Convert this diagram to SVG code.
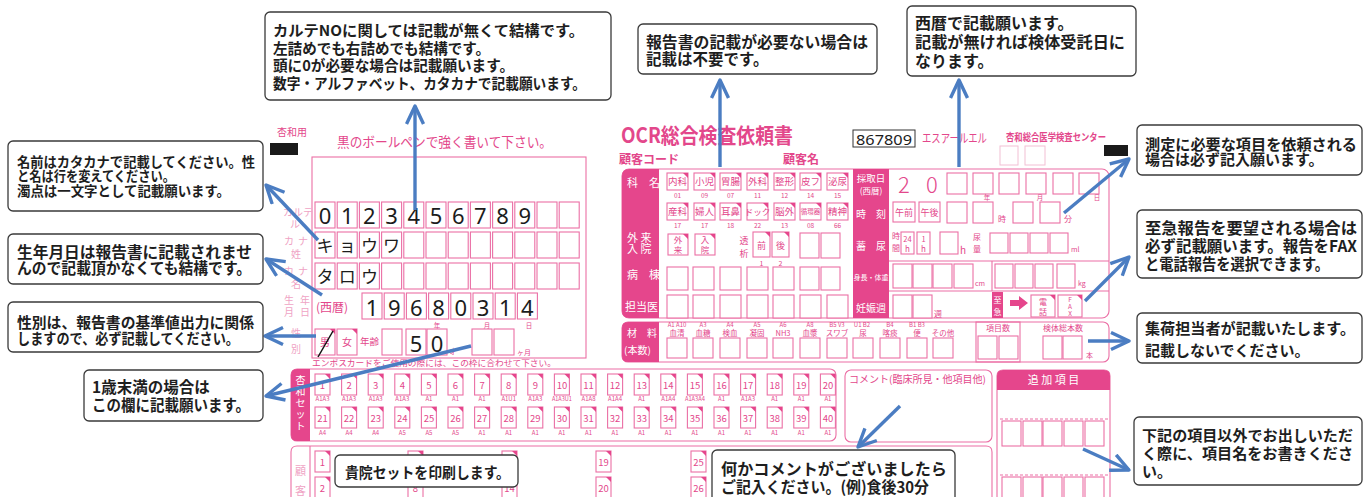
<svg xmlns="http://www.w3.org/2000/svg" width="1363" height="497" viewBox="0 0 1363 497">
<defs>
<style>
.cb{fill:#fff;stroke:#3a3a3a;stroke-width:1.3}
.ct{font-family:"Noto Sans CJK JP",sans-serif;font-weight:700;fill:#1e1e1e}
.pl{fill:none;stroke:#eb6fa5;stroke-width:1.1}
.pb{fill:#fff;stroke:#eb6fa5;stroke-width:1.1}
.pf{fill:#e5468c}
.pt{font-family:"Noto Sans CJK JP",sans-serif;fill:#e3478b}
.fd{font-family:"Noto Sans CJK JP",sans-serif;fill:#efa3c4}
.wt{font-family:"Noto Sans CJK JP",sans-serif;fill:#fff}
.dg{font-family:"Noto Sans","DejaVu Sans",sans-serif;fill:#1c1c1c;text-anchor:middle}
.kt{font-family:"Noto Sans CJK JP",sans-serif;fill:#1c1c1c;text-anchor:middle}
.ar{fill:none;stroke:#4b7dc2;stroke-width:3.4;marker-end:url(#ah)}
.c{text-anchor:middle}
</style>
<marker id="ah" markerUnits="userSpaceOnUse" markerWidth="26" markerHeight="26" refX="19" refY="10" orient="auto"><path d="M1,1.5 L19,10 L1,18.5" fill="none" stroke="#4b7dc2" stroke-width="3.4" stroke-linejoin="round"/></marker>
<g id="kb"><rect width="15" height="21" class="pb"/><path d="M10,0h5v5z" class="pf"/></g>
<g id="db"><rect width="21" height="17" class="pb"/><path d="M16,0h5v5z" class="pf"/></g>
<rect id="nb" width="20" height="26" class="pb"/>
<rect id="sb" width="20" height="21" class="pb"/>
</defs>

<g id="patient-panel">
<text class="pt" x="277" y="136" font-size="10">杏和用</text>
<rect x="270" y="143" width="28" height="12" fill="#1a1a1a"/>
<text class="pt" x="337" y="147" font-size="13.5" textLength="215" lengthAdjust="spacingAndGlyphs">黒のボールペンで強く書いて下さい。</text>
<rect class="pl" x="312" y="157" width="274" height="201"/>
<g class="fd" font-size="10">
<text x="283" y="216">カルテ</text><text x="290" y="228">ル</text>
<text x="284" y="245">カ</text><text x="298" y="245">ナ</text><text x="291" y="258">姓</text>
<text x="284" y="275">カ</text><text x="298" y="275">ナ</text><text x="291" y="288">名</text>
<text x="284" y="304">生</text><text x="300" y="304">年</text><text x="284" y="316">月</text><text x="300" y="316">日</text>
<text x="291" y="337">性</text><text x="291" y="353">別</text>
</g>
<use href="#nb" x="315" y="202"/><use href="#nb" x="337.2" y="202"/><use href="#nb" x="359.4" y="202"/><use href="#nb" x="381.6" y="202"/><use href="#nb" x="403.8" y="202"/><use href="#nb" x="426" y="202"/><use href="#nb" x="448.2" y="202"/><use href="#nb" x="470.4" y="202"/><use href="#nb" x="492.6" y="202"/><use href="#nb" x="514.8" y="202"/><use href="#nb" x="537" y="202"/><use href="#nb" x="559.2" y="202"/>
<use href="#nb" x="315" y="232"/><use href="#nb" x="337.2" y="232"/><use href="#nb" x="359.4" y="232"/><use href="#nb" x="381.6" y="232"/><use href="#nb" x="403.8" y="232"/><use href="#nb" x="426" y="232"/><use href="#nb" x="448.2" y="232"/><use href="#nb" x="470.4" y="232"/><use href="#nb" x="492.6" y="232"/><use href="#nb" x="514.8" y="232"/><use href="#nb" x="537" y="232"/><use href="#nb" x="559.2" y="232"/>
<use href="#nb" x="315" y="263"/><use href="#nb" x="337.2" y="263"/><use href="#nb" x="359.4" y="263"/><use href="#nb" x="381.6" y="263"/><use href="#nb" x="403.8" y="263"/><use href="#nb" x="426" y="263"/><use href="#nb" x="448.2" y="263"/><use href="#nb" x="470.4" y="263"/><use href="#nb" x="492.6" y="263"/><use href="#nb" x="514.8" y="263"/><use href="#nb" x="537" y="263"/><use href="#nb" x="559.2" y="263"/>
<g font-size="22">
<text class="dg" x="325" y="224">0</text><text class="dg" x="347.2" y="224">1</text><text class="dg" x="369.4" y="224">2</text><text class="dg" x="391.6" y="224">3</text><text class="dg" x="413.8" y="224">4</text><text class="dg" x="436" y="224">5</text><text class="dg" x="458.2" y="224">6</text><text class="dg" x="480.4" y="224">7</text><text class="dg" x="502.6" y="224">8</text><text class="dg" x="524.8" y="224">9</text>
</g>
<g font-size="17">
<text class="kt" x="325" y="252">キ</text><text class="kt" x="347.2" y="252">ョ</text><text class="kt" x="369.4" y="252">ウ</text><text class="kt" x="391.6" y="252">ワ</text>
<text class="kt" x="325" y="283">タ</text><text class="kt" x="347.2" y="283">ロ</text><text class="kt" x="369.4" y="283">ウ</text>
</g>
<text class="pt" x="316" y="312" font-size="12">(西暦)</text>
<use href="#nb" x="362" y="293"/><use href="#nb" x="384.2" y="293"/><use href="#nb" x="406.4" y="293"/><use href="#nb" x="428.6" y="293"/><use href="#nb" x="450.8" y="293"/><use href="#nb" x="473" y="293"/><use href="#nb" x="495.2" y="293"/><use href="#nb" x="517.4" y="293"/>
<g font-size="22">
<text class="dg" x="372" y="316">1</text><text class="dg" x="394.2" y="316">9</text><text class="dg" x="416.4" y="316">6</text><text class="dg" x="438.6" y="316">8</text><text class="dg" x="460.8" y="316">0</text><text class="dg" x="483" y="316">3</text><text class="dg" x="505.2" y="316">1</text><text class="dg" x="527.4" y="316">4</text>
</g>
<g class="pt c" font-size="6.5"><text x="437" y="327.5">年</text><text x="487" y="327.5">月</text><text x="529" y="327.5">日</text></g>
<use href="#nb" x="315" y="329"/><use href="#nb" x="337" y="329"/>
<path d="M330,329h5v5z M352,329h5v5z" class="pf"/>
<text class="pt c" x="325" y="346" font-size="10">男</text>
<text class="pt c" x="347" y="346" font-size="10">女</text>
<line x1="318" y1="357" x2="333" y2="331" stroke="#111" stroke-width="1.5"/>
<text class="pt" x="360" y="345" font-size="9.5">年齢</text>
<use href="#nb" x="382" y="329"/><use href="#nb" x="406" y="329"/><use href="#nb" x="427" y="329"/>
<text class="dg" x="416" y="352" font-size="22">5</text><text class="dg" x="437" y="352" font-size="22">0</text>
<text class="pt" x="450" y="354" font-size="6.5">才</text>
<use href="#nb" x="472" y="329"/><use href="#nb" x="494" y="329"/>
<text class="pt" x="517" y="355" font-size="7">ヶ月</text>
<text class="pt" x="312" y="366" font-size="8.5" textLength="244" lengthAdjust="spacingAndGlyphs">エンボスカードをご使用の際には、この枠に合わせて下さい。</text>
</g>

<g id="kyowa-set">
<rect class="pl" x="291" y="369" width="545" height="72" rx="6"/>
<path class="pf" d="M310,369 H297 Q291,369 291,375 V435 Q291,441 297,441 H310 Z"/>
<g class="wt c" font-size="10"><text x="300.5" y="384">杏</text><text x="300.5" y="395">和</text><text x="300.5" y="407">セ</text><text x="300.5" y="418">ッ</text><text x="300.5" y="430">ト</text></g>
<use href="#kb" x="315" y="374"/><use href="#kb" x="341.6" y="374"/><use href="#kb" x="368.2" y="374"/><use href="#kb" x="394.8" y="374"/><use href="#kb" x="421.4" y="374"/><use href="#kb" x="448" y="374"/><use href="#kb" x="474.6" y="374"/><use href="#kb" x="501.2" y="374"/><use href="#kb" x="527.8" y="374"/><use href="#kb" x="554.4" y="374"/><use href="#kb" x="581" y="374"/><use href="#kb" x="607.6" y="374"/><use href="#kb" x="634.2" y="374"/><use href="#kb" x="660.8" y="374"/><use href="#kb" x="687.4" y="374"/><use href="#kb" x="714" y="374"/><use href="#kb" x="740.6" y="374"/><use href="#kb" x="767.2" y="374"/><use href="#kb" x="793.8" y="374"/><use href="#kb" x="820.4" y="374"/>
<use href="#kb" x="315" y="407"/><use href="#kb" x="341.6" y="407"/><use href="#kb" x="368.2" y="407"/><use href="#kb" x="394.8" y="407"/><use href="#kb" x="421.4" y="407"/><use href="#kb" x="448" y="407"/><use href="#kb" x="474.6" y="407"/><use href="#kb" x="501.2" y="407"/><use href="#kb" x="527.8" y="407"/><use href="#kb" x="554.4" y="407"/><use href="#kb" x="581" y="407"/><use href="#kb" x="607.6" y="407"/><use href="#kb" x="634.2" y="407"/><use href="#kb" x="660.8" y="407"/><use href="#kb" x="687.4" y="407"/><use href="#kb" x="714" y="407"/><use href="#kb" x="740.6" y="407"/><use href="#kb" x="767.2" y="407"/><use href="#kb" x="793.8" y="407"/><use href="#kb" x="820.4" y="407"/>
<g class="pt c" font-size="9.5">
<text x="322.5" y="389">1</text><text x="349.1" y="389">2</text><text x="375.7" y="389">3</text><text x="402.3" y="389">4</text><text x="428.9" y="389">5</text><text x="455.5" y="389">6</text><text x="482.1" y="389">7</text><text x="508.7" y="389">8</text><text x="535.3" y="389">9</text><text x="561.9" y="389">10</text><text x="588.5" y="389">11</text><text x="615.1" y="389">12</text><text x="641.7" y="389">13</text><text x="668.3" y="389">14</text><text x="694.9" y="389">15</text><text x="721.5" y="389">16</text><text x="748.1" y="389">17</text><text x="774.7" y="389">18</text><text x="801.3" y="389">19</text><text x="827.9" y="389">20</text>
<text x="322.5" y="422">21</text><text x="349.1" y="422">22</text><text x="375.7" y="422">23</text><text x="402.3" y="422">24</text><text x="428.9" y="422">25</text><text x="455.5" y="422">26</text><text x="482.1" y="422">27</text><text x="508.7" y="422">28</text><text x="535.3" y="422">29</text><text x="561.9" y="422">30</text><text x="588.5" y="422">31</text><text x="615.1" y="422">32</text><text x="641.7" y="422">33</text><text x="668.3" y="422">34</text><text x="694.9" y="422">35</text><text x="721.5" y="422">36</text><text x="748.1" y="422">37</text><text x="774.7" y="422">38</text><text x="801.3" y="422">39</text><text x="827.9" y="422">40</text>
</g>
<g class="pt c" font-size="6">
<text x="322.5" y="401">A1A3</text><text x="349.1" y="401">A1A3</text><text x="375.7" y="401">A1A3</text><text x="402.3" y="401">A1A3</text><text x="428.9" y="401">A1</text><text x="455.5" y="401">A1</text><text x="482.1" y="401">A1</text><text x="508.7" y="401">A1U1</text><text x="535.3" y="401">A1A3</text><text x="561.9" y="401" textLength="20" lengthAdjust="spacingAndGlyphs">A1A3U1</text><text x="588.5" y="401">A1A8</text><text x="615.1" y="401">A1A4</text><text x="641.7" y="401">A1</text><text x="668.3" y="401">A1A4</text><text x="694.9" y="401" textLength="20" lengthAdjust="spacingAndGlyphs">A1A3A4</text><text x="721.5" y="401">A1</text><text x="748.1" y="401">A1A3</text><text x="774.7" y="401">A1</text><text x="801.3" y="401">A1</text><text x="827.9" y="401">A1</text>
<text x="322.5" y="435">A4</text><text x="349.1" y="435">A4</text><text x="375.7" y="435">A4</text><text x="402.3" y="435">A5</text><text x="428.9" y="435">A5</text><text x="455.5" y="435">A5</text><text x="482.1" y="435">A1</text><text x="508.7" y="435">A1</text><text x="535.3" y="435">A1</text><text x="561.9" y="435">A1</text><text x="588.5" y="435">A1</text><text x="615.1" y="435">A1</text><text x="641.7" y="435">A1</text><text x="668.3" y="435">A1</text><text x="694.9" y="435">A1</text><text x="721.5" y="435">A1</text><text x="748.1" y="435">A1</text><text x="774.7" y="435">A1</text><text x="801.3" y="435">A1</text><text x="827.9" y="435">A1</text>
</g>
</g>

<g id="customer-set">
<path class="pl" d="M291,497 V452 Q291,446 297,446 H986 Q992,446 992,452 V497"/>
<line class="pl" x1="310" y1="446" x2="310" y2="497"/>
<text class="fd c" x="300.5" y="475" font-size="11">顧</text><text class="fd c" x="300.5" y="495" font-size="11">客</text>
<use href="#kb" x="315" y="451"/><use href="#kb" x="315" y="477"/>
<use href="#kb" x="408" y="451"/><use href="#kb" x="408" y="477"/>
<use href="#kb" x="502" y="451"/><use href="#kb" x="502" y="477"/>
<use href="#kb" x="596" y="451"/><use href="#kb" x="596" y="477"/>
<use href="#kb" x="691" y="451"/><use href="#kb" x="691" y="477"/>
<g class="pt c" font-size="9.5">
<text x="322.5" y="466">1</text><text x="322.5" y="492">2</text>
<text x="415.5" y="492">8</text>
<text x="509.5" y="492">14</text>
<text x="603.5" y="466">19</text><text x="603.5" y="492">20</text>
<text x="698.5" y="466">25</text><text x="698.5" y="492">26</text>
</g>
</g>

<g id="comment-area">
<rect class="pl" x="845" y="370" width="147" height="72" rx="6"/>
<text class="pt" x="849" y="383" font-size="10" textLength="137" lengthAdjust="spacingAndGlyphs">コメント(臨床所見・他項目他)</text>
</g>

<g id="extra-items">
<path class="pl" d="M997,497 V376 Q997,370 1003,370 H1104 Q1110,370 1110,376 V497"/>
<path class="pf" d="M997,390 V376 Q997,370 1003,370 H1104 Q1110,370 1110,376 V390 Z"/>
<text class="wt c" x="1053.5" y="384" font-size="11">追 加 項 目</text>
<line x1="1000" y1="419" x2="1108" y2="419" stroke="#eb6fa5" stroke-width="1" stroke-dasharray="3 2"/>
<line x1="1000" y1="475" x2="1108" y2="475" stroke="#eb6fa5" stroke-width="1" stroke-dasharray="3 2"/>
<rect class="pb" x="1002" y="421" width="19" height="25"/><rect class="pb" x="1023" y="421" width="19" height="25"/><rect class="pb" x="1043" y="421" width="19" height="25"/><rect class="pb" x="1064" y="421" width="19" height="25"/><rect class="pb" x="1085" y="421" width="19" height="25"/>
<rect class="pb" x="1002" y="477" width="19" height="25"/><rect class="pb" x="1023" y="477" width="19" height="25"/><rect class="pb" x="1043" y="477" width="19" height="25"/><rect class="pb" x="1064" y="477" width="19" height="25"/><rect class="pb" x="1085" y="477" width="19" height="25"/>
</g>

<g id="ocr-form">
<text class="pt" x="621" y="143" font-size="21" font-weight="700" textLength="172" lengthAdjust="spacingAndGlyphs">OCR総合検査依頼書</text>
<text class="pt" x="619" y="164" font-size="12" font-weight="700">顧客コード</text>
<text class="pt" x="783" y="164" font-size="12" font-weight="700">顧客名</text>
<rect x="853" y="130" width="62" height="17" fill="#fff" stroke="#333" stroke-width="1"/>
<text class="dg" x="884" y="144.5" font-size="15" textLength="56" lengthAdjust="spacingAndGlyphs">867809</text>
<text class="pt" x="922" y="143" font-size="12.5" textLength="65" lengthAdjust="spacingAndGlyphs">エスアールエル</text>
<text class="pt" x="1006" y="141" font-size="10" font-weight="700" textLength="100" lengthAdjust="spacingAndGlyphs">杏和総合医学検査センター</text>
<rect x="1000" y="146" width="18" height="19" fill="none" stroke="#f2bfd4"/><rect x="1025" y="146" width="20" height="19" fill="none" stroke="#f2bfd4"/>
<rect x="1104" y="145" width="24" height="11" fill="#1a1a1a"/>

<rect class="pl" x="622" y="169" width="487" height="149" rx="7"/>
<path class="pf" d="M659,169 H629 Q622,169 622,176 V311 Q622,318 629,318 H659 Z"/>
<rect class="pf" x="853" y="169" width="36" height="149"/>
<g class="wt" font-size="11">
<text x="627" y="187">科　名</text>
<text x="627" y="242">外 来</text><text x="627" y="253">入 院</text>
<text x="627" y="279">病　棟</text>
<text x="625" y="311">担当医</text>
</g>
<g class="wt c" font-size="9.5">
<text x="871" y="182">採取日</text><text x="871" y="194" font-size="8.5">(西暦)</text>
<text x="871" y="218" font-size="10">時　刻</text>
<text x="871" y="250" font-size="10">蓄　尿</text>
<text x="871" y="280" font-size="7">身長・体重</text>
<text x="871" y="312" font-size="10">妊娠週</text>
</g>
<use href="#db" x="667" y="173"/><use href="#db" x="694" y="173"/><use href="#db" x="720" y="173"/><use href="#db" x="747" y="173"/><use href="#db" x="774" y="173"/><use href="#db" x="800" y="173"/><use href="#db" x="827" y="173"/>
<use href="#db" x="667" y="203"/><use href="#db" x="694" y="203"/><use href="#db" x="720" y="203"/><use href="#db" x="747" y="203"/><use href="#db" x="774" y="203"/><use href="#db" x="800" y="203"/><use href="#db" x="827" y="203"/>
<g class="pt c" font-size="9.5">
<text x="677.5" y="185">内科</text><text x="704.5" y="185">小児</text><text x="730.5" y="185">胃腸</text><text x="757.5" y="185">外科</text><text x="784.5" y="185">整形</text><text x="810.5" y="185">皮フ</text><text x="837.5" y="185">泌尿</text>
<text x="677.5" y="215">産科</text><text x="704.5" y="215">婦人</text><text x="730.5" y="215">耳鼻</text><text x="757.5" y="215" font-size="8.5">ドック</text><text x="784.5" y="215">脳外</text><text x="810.5" y="214" font-size="6.5">循環器</text><text x="837.5" y="215">精神</text>
</g>
<g class="pt c" font-size="6.5">
<text x="677.5" y="198">01</text><text x="704.5" y="198">09</text><text x="730.5" y="198">07</text><text x="757.5" y="198">11</text><text x="784.5" y="198">12</text><text x="810.5" y="198">14</text><text x="837.5" y="198">15</text>
<text x="677.5" y="228">17</text><text x="704.5" y="228">17</text><text x="730.5" y="228">18</text><text x="757.5" y="228">22</text><text x="784.5" y="228">13</text><text x="810.5" y="228">08</text><text x="837.5" y="228">66</text>
</g>
<rect class="pb" x="668" y="234" width="20" height="21"/><rect class="pb" x="695" y="234" width="20" height="21"/>
<path d="M683,234h5v5z M710,234h5v5z" class="pf"/>
<g class="pt c" font-size="8.5"><text x="678" y="243">外</text><text x="678" y="253">来</text><text x="705" y="243">入</text><text x="705" y="253">院</text></g>
<text class="pt c" x="744" y="244" font-size="9">透</text><text class="pt c" x="744" y="257" font-size="9">析</text>
<rect class="pb" x="753" y="232" width="17" height="25"/><rect class="pb" x="772" y="232" width="17" height="25"/>
<path d="M765,232h5v5z M784,232h5v5z" class="pf"/>
<text class="pt c" x="761.5" y="249" font-size="9">前</text><text class="pt c" x="780.5" y="249" font-size="9">後</text>
<text class="pt c" x="761.5" y="266" font-size="7">1</text><text class="pt c" x="780.5" y="266" font-size="7">2</text>
<rect class="pb" x="800" y="233" width="19" height="25"/><rect class="pb" x="821" y="233" width="19" height="25"/>
<rect class="pb" x="667" y="267" width="21" height="23"/><rect class="pb" x="693" y="267" width="21" height="23"/><rect class="pb" x="720" y="267" width="21" height="23"/><rect class="pb" x="747" y="267" width="21" height="23"/><rect class="pb" x="773" y="267" width="21" height="23"/><rect class="pb" x="800" y="267" width="19" height="23"/><rect class="pb" x="821" y="267" width="19" height="23"/>
<rect class="pb" x="667" y="295" width="21" height="23"/><rect class="pb" x="693" y="295" width="21" height="23"/><rect class="pb" x="720" y="295" width="21" height="23"/><rect class="pb" x="747" y="295" width="21" height="23"/><rect class="pb" x="773" y="295" width="21" height="23"/><rect class="pb" x="800" y="295" width="21" height="23"/><rect class="pb" x="827" y="295" width="21" height="23"/>

<text class="pt c" x="904" y="193" font-size="22" font-weight="300">2</text><text class="pt c" x="932" y="193" font-size="22" font-weight="300">0</text>
<use href="#sb" x="947" y="173"/><use href="#sb" x="973" y="173"/><use href="#sb" x="999" y="173"/><use href="#sb" x="1026" y="173"/><use href="#sb" x="1053" y="173"/><use href="#sb" x="1079" y="173"/>
<g class="pt c" font-size="6.5"><text x="987" y="200">年</text><text x="1040" y="200">月</text><text x="1097" y="200">日</text></g>
<rect class="pb" x="893" y="202" width="22" height="20"/><rect class="pb" x="919" y="202" width="21" height="20"/>
<text class="pt c" x="904" y="215.5" font-size="9">午前</text><text class="pt c" x="929.5" y="215.5" font-size="9">午後</text>
<use href="#sb" x="947" y="202"/><use href="#sb" x="973" y="202"/>
<text class="pt" x="998" y="222" font-size="8">時</text>
<use href="#sb" x="1013" y="202"/><use href="#sb" x="1040" y="202"/>
<text class="pt" x="1064" y="222" font-size="8">分</text>
<text class="pt c" x="896" y="239" font-size="8">時</text><text class="pt c" x="896" y="251" font-size="8">間</text>
<rect class="pb" x="901" y="232" width="13" height="22"/><rect class="pb" x="917" y="232" width="13" height="22"/>
<text class="pt c" x="907.5" y="242" font-size="7.5">24</text><text class="pt c" x="907.5" y="252" font-size="8">h</text>
<text class="pt c" x="923.5" y="242" font-size="7.5">1</text><text class="pt c" x="923.5" y="252" font-size="8">h</text>
<rect class="pb" x="940" y="232" width="18" height="22"/>
<text class="pt" x="960" y="254" font-size="10">h</text>
<text class="pt c" x="977" y="240" font-size="8">尿</text><text class="pt c" x="977" y="252" font-size="8">量</text>
<rect class="pb" x="990" y="233" width="18" height="20"/><rect class="pb" x="1010" y="233" width="18" height="20"/><rect class="pb" x="1030" y="233" width="18" height="20"/><rect class="pb" x="1050" y="233" width="18" height="20"/>
<text class="pt" x="1071" y="252" font-size="7">ml</text>
<line class="pl" x1="889" y1="261" x2="1109" y2="261"/>
<line class="pl" x1="889" y1="291" x2="1109" y2="291"/>
<line class="pl" x1="992" y1="261" x2="992" y2="291"/>
<rect class="pb" x="893" y="264" width="19" height="24"/><rect class="pb" x="913" y="264" width="19" height="24"/><rect class="pb" x="933" y="264" width="19" height="24"/><rect class="pb" x="954" y="264" width="19" height="24"/>
<text class="pt" x="975" y="286" font-size="7">cm</text>
<rect class="pb" x="995" y="264" width="18" height="24"/><rect class="pb" x="1015" y="264" width="18" height="24"/><rect class="pb" x="1035" y="264" width="18" height="24"/><rect class="pb" x="1057" y="264" width="18" height="24"/>
<text class="pt" x="1078" y="286" font-size="7">kg</text>
<rect class="pb" x="893" y="295" width="19" height="23"/><rect class="pb" x="913" y="295" width="19" height="23"/>
<text class="pt" x="934" y="317" font-size="8">週</text>
<rect class="pf" x="992" y="292" width="11" height="26"/>
<text class="wt c" x="997.5" y="303" font-size="8">至</text><text class="wt c" x="997.5" y="315" font-size="8">急</text>
<path class="pf" d="M1010,300 h9 v-4 l9,7 l-9,7 v-4 h-9 z"/>
<rect class="pb" x="1031" y="295" width="24" height="22"/><rect class="pb" x="1058" y="295" width="24" height="22"/>
<path d="M1050,295h5v5z M1077,295h5v5z" class="pf"/>
<text class="pt c" x="1043" y="305" font-size="8">電</text><text class="pt c" x="1043" y="315" font-size="8">話</text>
<text class="pt c" x="1070" y="302" font-size="6.5">F</text><text class="pt c" x="1070" y="309" font-size="6.5">A</text><text class="pt c" x="1070" y="316" font-size="6.5">X</text>

<rect class="pl" x="622" y="322" width="487" height="40" rx="6"/>
<path class="pf" d="M659,322 H628 Q622,322 622,328 V356 Q622,362 628,362 H659 Z"/>
<text class="wt" x="627" y="337" font-size="10">材　料</text><text class="wt" x="624" y="354" font-size="10">(本数)</text>
<g class="pt c" font-size="6">
<text x="677" y="327">A1 A10</text><text x="703" y="327">A3</text><text x="730" y="327">A4</text><text x="757" y="327">A5</text><text x="783" y="327">A6</text><text x="810" y="327">A8</text><text x="837" y="327">B5 V3</text><text x="862" y="327">U1 B2</text><text x="890" y="327">B4</text><text x="917" y="327">B1 B3</text>
</g>
<g class="pt c" font-size="7.5">
<text x="677" y="336">血清</text><text x="703" y="336">血糖</text><text x="730" y="336">検血</text><text x="757" y="336">凝固</text><text x="783" y="336">NH3</text><text x="810" y="336">血漿</text><text x="837" y="336">スワブ</text><text x="863" y="336">尿</text><text x="890" y="336">喀痰</text><text x="917" y="336">便</text><text x="943" y="336">その他</text>
</g>
<rect class="pb" x="667" y="338" width="20" height="20"/><rect class="pb" x="693" y="338" width="20" height="20"/><rect class="pb" x="720" y="338" width="20" height="20"/><rect class="pb" x="747" y="338" width="20" height="20"/><rect class="pb" x="773" y="338" width="20" height="20"/><rect class="pb" x="800" y="338" width="20" height="20"/><rect class="pb" x="827" y="338" width="20" height="20"/><rect class="pb" x="853" y="338" width="20" height="20"/><rect class="pb" x="880" y="338" width="20" height="20"/><rect class="pb" x="907" y="338" width="20" height="20"/><rect class="pb" x="933" y="338" width="20" height="20"/>
<rect class="pl" x="976" y="322" width="44" height="40"/>
<text class="pt c" x="998" y="331" font-size="8">項目数</text>
<rect class="pb" x="978" y="336" width="19" height="23"/><rect class="pb" x="999" y="336" width="19" height="23"/>
<text class="pt c" x="1063" y="331" font-size="8">検体総本数</text>
<rect class="pb" x="1043" y="336" width="19" height="23"/><rect class="pb" x="1063" y="336" width="19" height="23"/>
<text class="pt" x="1086" y="358" font-size="7">本</text>
</g>

<g id="connectors">
<path class="ar" d="M415,210 V106"/>
<path class="ar" d="M720,167 V80"/>
<path class="ar" d="M959,167 V80"/>
<path class="ar" d="M1064,213 L1129,159"/>
<path class="ar" d="M1085,301 L1129,257"/>
<path class="ar" d="M1088,341 L1129,341"/>
<path class="ar" d="M1083,449 L1129,470"/>
<path class="ar" d="M900,406 L858,447"/>
<path class="ar" d="M318,240 L266,185"/>
<path class="ar" d="M322,295 L266,259"/>
<path class="ar" d="M316,336 L265,336"/>
<path class="ar" d="M471,346 L266,396"/>
</g>

<g id="note-karte">
<rect class="cb" x="265" y="12" width="346" height="88" rx="5"/>
<text class="ct" x="273" y="36" font-size="15" textLength="311" lengthAdjust="spacingAndGlyphs">カルテNOに関しては記載が無くて結構です。</text>
<text class="ct" x="273" y="54" font-size="15" textLength="217" lengthAdjust="spacingAndGlyphs">左詰めでも右詰めでも結構です。</text>
<text class="ct" x="273" y="71" font-size="15" textLength="241" lengthAdjust="spacingAndGlyphs">頭に0が必要な場合は記載願います。</text>
<text class="ct" x="273" y="89" font-size="15" textLength="313" lengthAdjust="spacingAndGlyphs">数字・アルファベット、カタカナで記載願います。</text>
</g>
<g id="note-report">
<rect class="cb" x="638" y="24" width="239" height="50" rx="5"/>
<text class="ct" x="646" y="48" font-size="15.5" textLength="222" lengthAdjust="spacingAndGlyphs">報告書の記載が必要ない場合は</text>
<text class="ct" x="646" y="65" font-size="15.5">記載は不要です。</text>
</g>
<g id="note-date">
<rect class="cb" x="907" y="6" width="229" height="70" rx="5"/>
<text class="ct" x="915" y="29" font-size="16">西暦で記載願います。</text>
<text class="ct" x="915" y="48" font-size="16" textLength="210" lengthAdjust="spacingAndGlyphs">記載が無ければ検体受託日に</text>
<text class="ct" x="915" y="67" font-size="16">なります。</text>
</g>
<g id="note-items">
<rect class="cb" x="1137" y="125" width="225" height="50" rx="5"/>
<text class="ct" x="1145" y="150" font-size="15" textLength="212" lengthAdjust="spacingAndGlyphs">測定に必要な項目を依頼される</text>
<text class="ct" x="1145" y="165" font-size="15">場合は必ず記入願います。</text>
</g>
<g id="note-urgent">
<rect class="cb" x="1137" y="210" width="225" height="68" rx="5"/>
<text class="ct" x="1145" y="234" font-size="15.5" textLength="212" lengthAdjust="spacingAndGlyphs">至急報告を要望される場合は</text>
<text class="ct" x="1145" y="252" font-size="15.5" textLength="212" lengthAdjust="spacingAndGlyphs">必ず記載願います。報告をFAX</text>
<text class="ct" x="1145" y="270" font-size="15.5" textLength="184" lengthAdjust="spacingAndGlyphs">と電話報告を選択できます。</text>
</g>
<g id="note-pickup">
<rect class="cb" x="1137" y="313" width="225" height="50" rx="5"/>
<text class="ct" x="1145" y="334" font-size="15" textLength="210" lengthAdjust="spacingAndGlyphs">集荷担当者が記載いたします。</text>
<text class="ct" x="1145" y="356" font-size="15">記載しないでください。</text>
</g>
<g id="note-extra">
<rect class="cb" x="1134" y="417" width="228" height="68" rx="5"/>
<text class="ct" x="1142" y="441" font-size="15" textLength="211" lengthAdjust="spacingAndGlyphs">下記の項目以外でお出しいただ</text>
<text class="ct" x="1142" y="459" font-size="15" textLength="211" lengthAdjust="spacingAndGlyphs">く際に、項目名をお書きくださ</text>
<text class="ct" x="1142" y="477" font-size="15">い。</text>
</g>
<g id="note-name">
<rect class="cb" x="8" y="141" width="255" height="70" rx="5"/>
<text class="ct" x="17" y="167" font-size="14" textLength="238" lengthAdjust="spacingAndGlyphs">名前はカタカナで記載してください。性</text>
<text class="ct" x="17" y="181" font-size="14" textLength="158" lengthAdjust="spacingAndGlyphs">と名は行を変えてください。</text>
<text class="ct" x="17" y="196" font-size="14" textLength="213" lengthAdjust="spacingAndGlyphs">濁点は一文字として記載願います。</text>
</g>
<g id="note-birth">
<rect class="cb" x="8" y="234" width="255" height="50" rx="5"/>
<text class="ct" x="17" y="258" font-size="15.5" textLength="235" lengthAdjust="spacingAndGlyphs">生年月日は報告書に記載されませ</text>
<text class="ct" x="17" y="274" font-size="15.5" textLength="234" lengthAdjust="spacingAndGlyphs">んので記載頂かなくても結構です。</text>
</g>
<g id="note-sex">
<rect class="cb" x="8" y="302" width="255" height="50" rx="5"/>
<text class="ct" x="17" y="328" font-size="15" textLength="237" lengthAdjust="spacingAndGlyphs">性別は、報告書の基準値出力に関係</text>
<text class="ct" x="17" y="344" font-size="15" textLength="222" lengthAdjust="spacingAndGlyphs">しますので、必ず記載してください。</text>
</g>
<g id="note-infant">
<rect class="cb" x="84" y="370" width="179" height="51" rx="5"/>
<text class="ct" x="92" y="393" font-size="15.5">1歳末満の場合は</text>
<text class="ct" x="92" y="411" font-size="15.5" textLength="158" lengthAdjust="spacingAndGlyphs">この欄に記載願います。</text>
</g>
<g id="note-set">
<rect class="cb" x="335" y="455" width="183" height="32" rx="5"/>
<text class="ct" x="345" y="478" font-size="15" textLength="165" lengthAdjust="spacingAndGlyphs">貴院セットを印刷します。</text>
</g>
<g id="note-comment">
<rect class="cb" x="712" y="450" width="243" height="60" rx="5"/>
<text class="ct" x="721" y="475" font-size="16" textLength="226" lengthAdjust="spacingAndGlyphs">何かコメントがございましたら</text>
<text class="ct" x="721" y="493" font-size="16" textLength="208" lengthAdjust="spacingAndGlyphs">ご記入ください。(例)食後30分</text>
</g>
</svg>
